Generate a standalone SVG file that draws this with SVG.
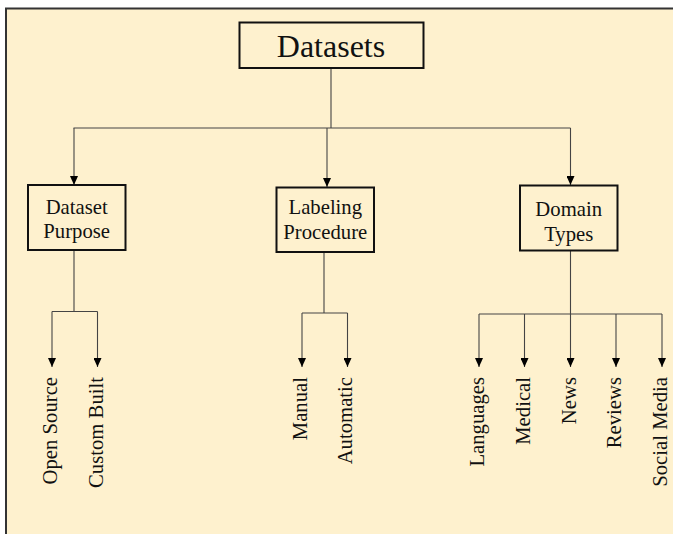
<svg xmlns="http://www.w3.org/2000/svg" width="674" height="534" viewBox="0 0 674 534">
  <defs>
    <marker id="arr" viewBox="0 0 9 8" refX="9" refY="4" markerWidth="9" markerHeight="8" markerUnits="userSpaceOnUse" orient="auto">
      <path d="M0,0 L9,4 L0,8 Z" fill="#000"/>
    </marker>
    <style>
      .box { fill: none; stroke: #111; stroke-width: 2; }
      .t { font-family: "Liberation Serif", "Times New Roman", serif; fill: #111; font-size: 20.7px; text-anchor: middle; }
      .lbl { font-family: "Liberation Serif", "Times New Roman", serif; fill: #111; font-size: 20.7px; text-anchor: end; }
      .ln { fill: none; stroke: #444; stroke-width: 1.1; }
      .ar { fill: none; stroke: #444; stroke-width: 1.1; }
    </style>
  </defs>
  <rect x="0" y="0" width="674" height="534" fill="#ffffff"/>
  <rect x="6" y="8.5" width="667" height="526" fill="#FEF1CE"/>
  <path d="M6,534 V8.5 H673" fill="none" stroke="#333" stroke-width="2"/>

  <g id="connectors">
    <!-- top level -->
    <path class="ln" d="M331,68 V128 M73.5,128 H570.5"/>
    <path class="ar" d="M74,128 V185" marker-end="url(#arr)"/>
    <path class="ar" d="M327,128 V187" marker-end="url(#arr)"/>
    <path class="ar" d="M570.5,128 V185" marker-end="url(#arr)"/>
    <!-- Dataset Purpose -->
    <path class="ln" d="M74,250 V311.5 M52,311.5 H97.5"/>
    <path class="ar" d="M52,311.5 V367" marker-end="url(#arr)"/>
    <path class="ar" d="M97.5,311.5 V367" marker-end="url(#arr)"/>
    <!-- Labeling Procedure -->
    <path class="ln" d="M324,252 V313 M302,313 H347.5"/>
    <path class="ar" d="M302,313 V367" marker-end="url(#arr)"/>
    <path class="ar" d="M347.5,313 V367" marker-end="url(#arr)"/>
    <!-- Domain Types -->
    <path class="ln" d="M570.5,250 V314 M479,314 H662"/>
    <path class="ar" d="M479,314 V367" marker-end="url(#arr)"/>
    <path class="ar" d="M524.5,314 V367" marker-end="url(#arr)"/>
    <path class="ar" d="M570.5,314 V367" marker-end="url(#arr)"/>
    <path class="ar" d="M616,314 V367" marker-end="url(#arr)"/>
    <path class="ar" d="M662,314 V367" marker-end="url(#arr)"/>
  </g>

  <g id="datasets">
    <rect class="box" x="239.5" y="22.5" width="184" height="45.5"/>
    <text class="t" x="331" y="57" style="font-size:32px">Datasets</text>
  </g>

  <g id="dataset-purpose">
    <rect class="box" x="28" y="185" width="97.5" height="65"/>
    <text class="t" x="76.7" y="214">Dataset</text>
    <text class="t" x="76.7" y="238">Purpose</text>
  </g>

  <g id="labeling-procedure">
    <rect class="box" x="276.5" y="187.5" width="97.5" height="64.5"/>
    <text class="t" x="325.3" y="214">Labeling</text>
    <text class="t" x="325.3" y="239">Procedure</text>
  </g>

  <g id="domain-types">
    <rect class="box" x="520" y="185.5" width="97.5" height="65"/>
    <text class="t" x="568.7" y="216">Domain</text>
    <text class="t" x="568.7" y="240.5">Types</text>
  </g>

  <g id="open-source"><text class="lbl" transform="translate(57,377) rotate(-90)">Open Source</text></g>
  <g id="custom-built"><text class="lbl" transform="translate(102.5,377) rotate(-90)">Custom Built</text></g>
  <g id="manual"><text class="lbl" transform="translate(306.5,377) rotate(-90)">Manual</text></g>
  <g id="automatic"><text class="lbl" transform="translate(352,377) rotate(-90)">Automatic</text></g>
  <g id="languages"><text class="lbl" transform="translate(484,377) rotate(-90)">Languages</text></g>
  <g id="medical"><text class="lbl" transform="translate(529.5,377) rotate(-90)">Medical</text></g>
  <g id="news"><text class="lbl" transform="translate(575.5,377) rotate(-90)">News</text></g>
  <g id="reviews"><text class="lbl" transform="translate(621,377) rotate(-90)">Reviews</text></g>
  <g id="social-media"><text class="lbl" transform="translate(667,377) rotate(-90)">Social Media</text></g>
</svg>
